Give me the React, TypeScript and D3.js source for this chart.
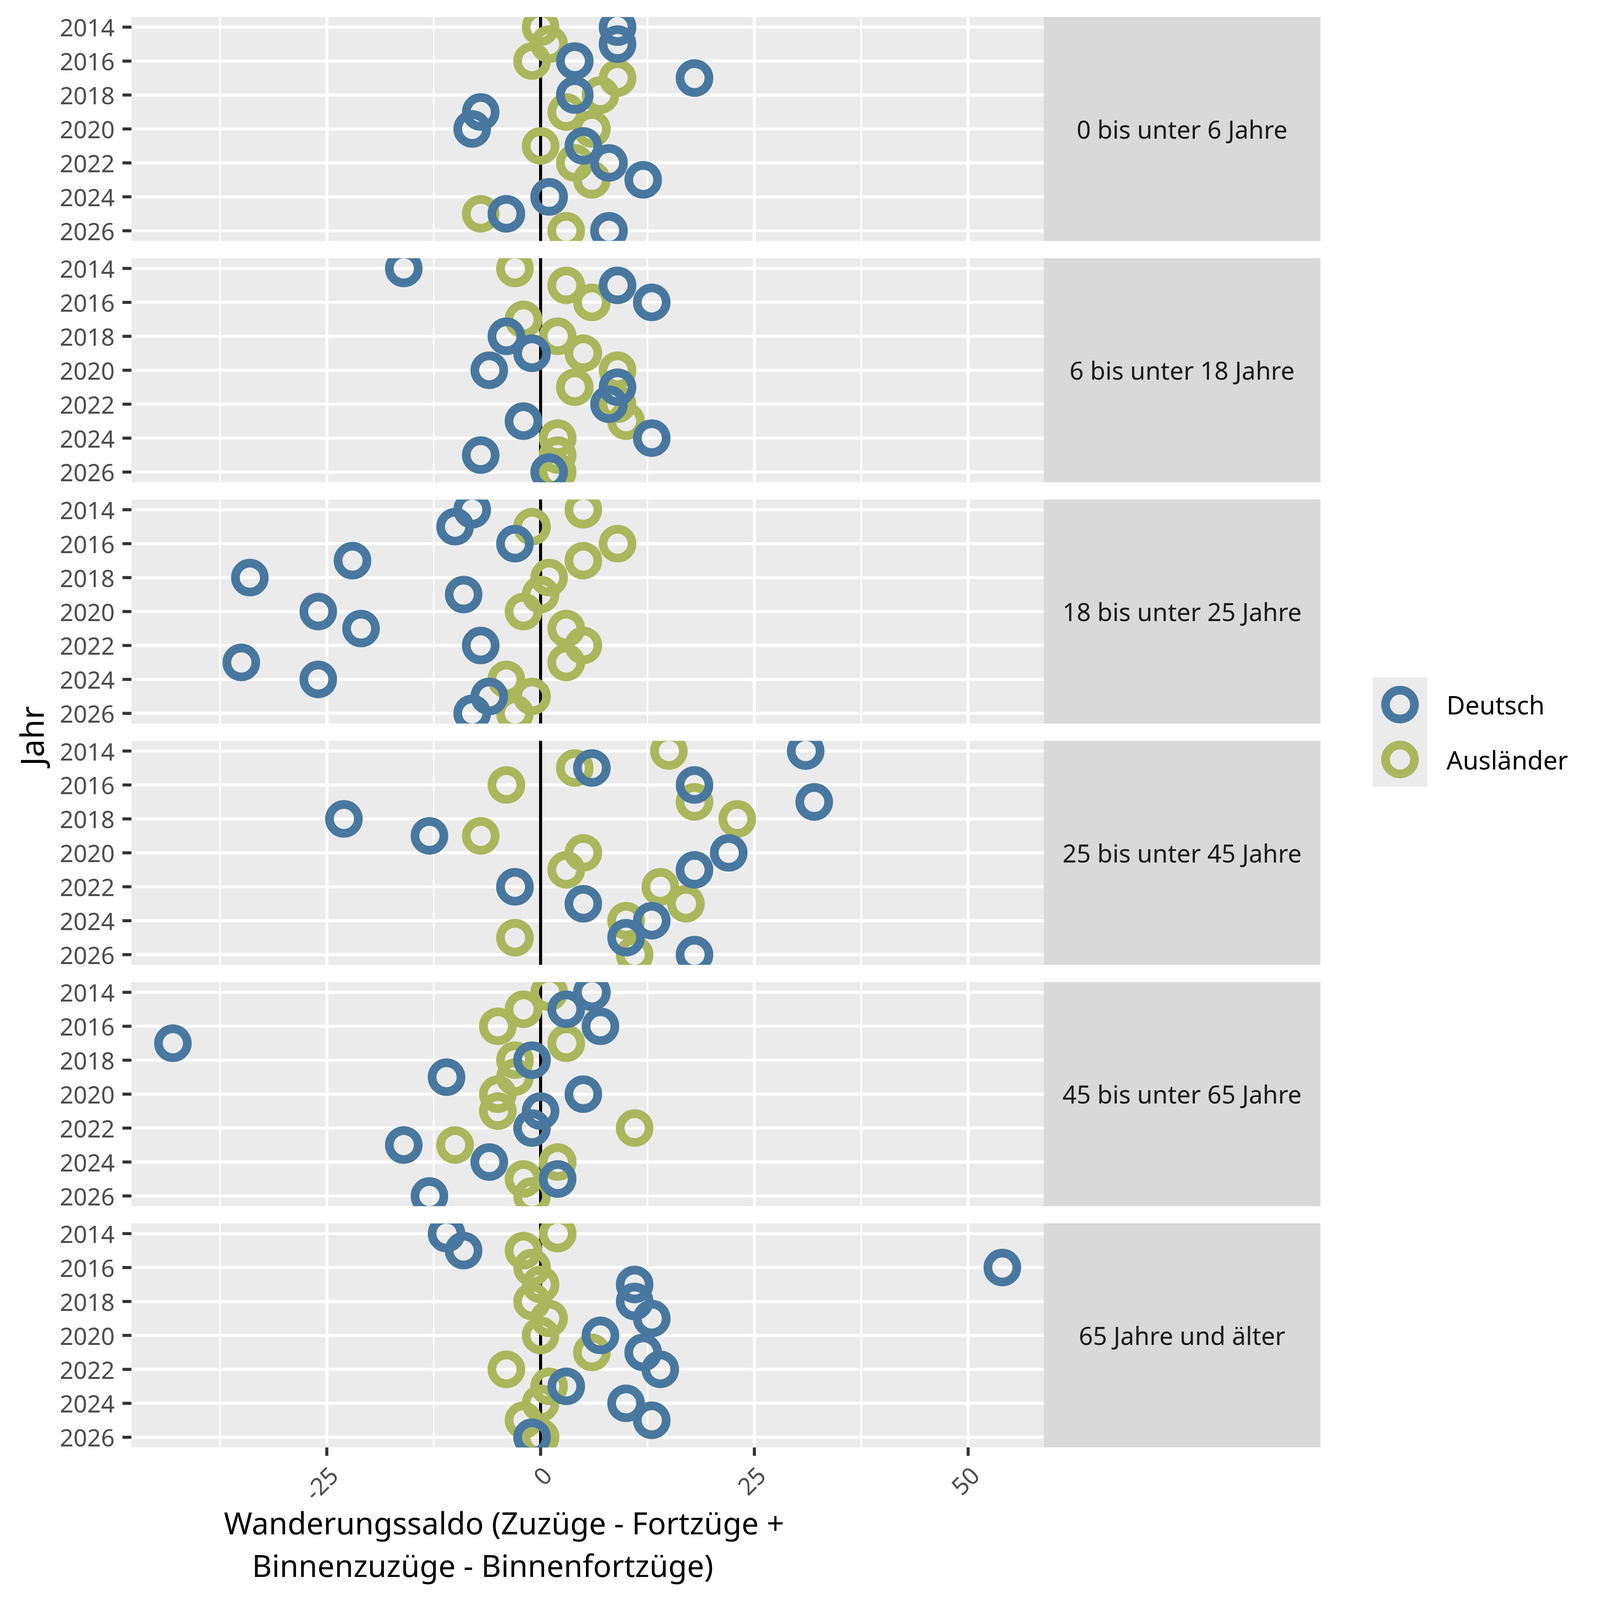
import { useEffect, useRef } from "react"
import * as d3 from "d3"

const years = [2014, 2015, 2016, 2017, 2018, 2019, 2020, 2021, 2022, 2023, 2024, 2025, 2026]
const yearBreaks = [2014, 2016, 2018, 2020, 2022, 2024, 2026]
const xBreaks = [-25, 0, 25, 50]
const xMinorBreaks = [-37.5, -12.5, 12.5, 37.5]

const ageGroups = [
  "0 bis unter 6 Jahre",
  "6 bis unter 18 Jahre",
  "18 bis unter 25 Jahre",
  "25 bis unter 45 Jahre",
  "45 bis unter 65 Jahre",
  "65 Jahre und älter",
]

const nationalities = ["Deutsch", "Ausländer"]
const colors = ["#48789F", "#AAB75C"]

// Wanderungssaldo per year, 2014..2026 (null = no visible point)
const deutsch_0_6 = [9, 9, 4, 18, 4, -7, -8, 5, 8, 12, 1, -4, 8]
const auslaender_0_6 = [0, 1, -1, 9, 7, 3, 6, 0, 4, 6, 1, -7, 3]
const deutsch_6_18 = [-16, 9, 13, null, -4, -1, -6, 9, 8, -2, 13, -7, 1]
const auslaender_6_18 = [-3, 3, 6, -2, 2, 5, 9, 4, 9, 10, 2, 2, 2]
const deutsch_18_25 = [-8, -10, -3, -22, -34, -9, -26, -21, -7, -35, -26, -6, -8]
const auslaender_18_25 = [5, -1, 9, 5, 1, 0, -2, 3, 5, 3, -4, -1, -3]
const deutsch_25_45 = [31, 6, 18, 32, -23, -13, 22, 18, -3, 5, 13, 10, 18]
const auslaender_25_45 = [15, 4, -4, 18, 23, -7, 5, 3, 14, 17, 10, -3, 11]
const deutsch_45_65 = [6, 3, 7, -43, -1, -11, 5, 0, -1, -16, -6, 2, -13]
const auslaender_45_65 = [1, -2, -5, 3, -3, -3, -5, -5, 11, -10, 2, -2, -1]
const deutsch_65 = [-11, -9, 54, 11, 11, 13, 7, 12, 14, 3, 10, 13, -1]
const auslaender_65 = [2, -2, -1, 0, -1, 1, 0, 6, -4, 1, 0, -2, 0]

const deutschByAge = [deutsch_0_6, deutsch_6_18, deutsch_18_25, deutsch_25_45, deutsch_45_65, deutsch_65]
const auslaenderByAge = [auslaender_0_6, auslaender_6_18, auslaender_18_25, auslaender_25_45, auslaender_45_65, auslaender_65]

interface Point {
  panel: number
  group: number
  year: number
  value: number
}

export default function App() {
  const svgRef = useRef<SVGSVGElement>(null)

  useEffect(() => {
    if (!svgRef.current) return
    const svg = d3.select(svgRef.current)
    svg.selectAll("*").remove()

    const font = "'Noto Sans', 'Open Sans', sans-serif"
    const plotLeft = 345
    const plotRight = 2740
    const stripRight = 3466
    const top = 44.5
    const panelH = 588
    const gap = 45.4

    // long format, foreigners drawn first so Deutsch sits on top
    const points: Point[] = []
    ;[1, 0].forEach((g) => {
      const src = g === 0 ? deutschByAge : auslaenderByAge
      src.forEach((vals, p) => {
        vals.forEach((v, j) => {
          if (v !== null) points.push({ panel: p, group: g, year: years[j], value: v })
        })
      })
    })

    const [vMin, vMax] = d3.extent(points, (d) => d.value) as [number, number]
    const pad = (vMax - vMin) * 0.05
    const x = d3.scaleLinear().domain([vMin - pad, vMax + pad]).range([plotLeft, plotRight])
    const yPad = (years[years.length - 1] - years[0]) * 0.05

    svg.append("rect").attr("width", 4200).attr("height", 4200).attr("fill", "#FFFFFF")

    ageGroups.forEach((label, p) => {
      const y0 = top + p * (panelH + gap)
      const y = d3
        .scaleLinear()
        .domain([years[0] - yPad, years[years.length - 1] + yPad])
        .range([y0, y0 + panelH])
      const g = svg.append("g")

      g.append("rect")
        .attr("x", plotLeft)
        .attr("y", y0)
        .attr("width", plotRight - plotLeft)
        .attr("height", panelH)
        .attr("fill", "#EBEBEB")

      g.selectAll("line.minor")
        .data(xMinorBreaks)
        .enter()
        .append("line")
        .attr("x1", (d) => x(d))
        .attr("x2", (d) => x(d))
        .attr("y1", y0)
        .attr("y2", y0 + panelH)
        .attr("stroke", "#FFFFFF")
        .attr("stroke-width", 4)

      g.selectAll("line.majorx")
        .data(xBreaks)
        .enter()
        .append("line")
        .attr("x1", (d) => x(d))
        .attr("x2", (d) => x(d))
        .attr("y1", y0)
        .attr("y2", y0 + panelH)
        .attr("stroke", "#FFFFFF")
        .attr("stroke-width", 8)

      g.selectAll("line.majory")
        .data(yearBreaks)
        .enter()
        .append("line")
        .attr("x1", plotLeft)
        .attr("x2", plotRight)
        .attr("y1", (d) => y(d))
        .attr("y2", (d) => y(d))
        .attr("stroke", "#FFFFFF")
        .attr("stroke-width", 8)

      // zero line
      g.append("line")
        .attr("x1", x(0))
        .attr("x2", x(0))
        .attr("y1", y0)
        .attr("y2", y0 + panelH)
        .attr("stroke", "#000000")
        .attr("stroke-width", 8)

      const clipId = `clip-${p}`
      svg
        .append("clipPath")
        .attr("id", clipId)
        .append("rect")
        .attr("x", plotLeft)
        .attr("y", y0)
        .attr("width", plotRight - plotLeft)
        .attr("height", panelH)

      g.append("g")
        .attr("clip-path", `url(#${clipId})`)
        .selectAll("circle")
        .data(points.filter((d) => d.panel === p))
        .enter()
        .append("circle")
        .attr("cx", (d) => x(d.value))
        .attr("cy", (d) => y(d.year))
        .attr("r", 37.9)
        .attr("fill", "none")
        .attr("stroke", (d) => colors[d.group])
        .attr("stroke-width", 22.8)

      // strip
      g.append("rect")
        .attr("x", plotRight)
        .attr("y", y0)
        .attr("width", stripRight - plotRight)
        .attr("height", panelH)
        .attr("fill", "#D9D9D9")
      g.append("text")
        .attr("x", (plotRight + stripRight) / 2)
        .attr("y", y0 + panelH / 2)
        .attr("text-anchor", "middle")
        .attr("dominant-baseline", "central")
        .attr("font-family", font)
        .attr("font-size", 65)
        .attr("fill", "#1A1A1A")
        .text(label)

      // y axis
      g.selectAll("line.ytick")
        .data(yearBreaks)
        .enter()
        .append("line")
        .attr("x1", plotLeft - 23.5)
        .attr("x2", plotLeft)
        .attr("y1", (d) => y(d))
        .attr("y2", (d) => y(d))
        .attr("stroke", "#333333")
        .attr("stroke-width", 8)
      g.selectAll("text.ylab")
        .data(yearBreaks)
        .enter()
        .append("text")
        .attr("x", 301)
        .attr("y", (d) => y(d))
        .attr("text-anchor", "end")
        .attr("dominant-baseline", "central")
        .attr("font-family", font)
        .attr("font-size", 63)
        .attr("fill", "#4D4D4D")
        .text((d) => String(d))
    })

    // x axis under the last panel
    const axisY = top + 5 * (panelH + gap) + panelH
    const ax = svg.append("g")
    ax.selectAll("line")
      .data(xBreaks)
      .enter()
      .append("line")
      .attr("x1", (d) => x(d))
      .attr("x2", (d) => x(d))
      .attr("y1", axisY)
      .attr("y2", axisY + 22)
      .attr("stroke", "#333333")
      .attr("stroke-width", 8)
    ax.selectAll("text")
      .data(xBreaks)
      .enter()
      .append("text")
      .attr("transform", (d) => `translate(${x(d) + 17},${axisY + 61}) rotate(-45)`)
      .attr("text-anchor", "end")
      .attr("dominant-baseline", "central")
      .attr("font-family", font)
      .attr("font-size", 63)
      .attr("fill", "#4D4D4D")
      .text((d) => String(d))

    // axis titles
    svg.append("text")
      .attr("x", 1323)
      .attr("y", 4028)
      .attr("text-anchor", "middle")
      .attr("font-family", font)
      .attr("font-size", 80)
      .attr("fill", "#000000")
      .text("Wanderungssaldo (Zuzüge - Fortzüge +")
    svg.append("text")
      .attr("x", 1267)
      .attr("y", 4139)
      .attr("text-anchor", "middle")
      .attr("font-family", font)
      .attr("font-size", 80)
      .attr("fill", "#000000")
      .text("Binnenzuzüge - Binnenfortzüge)")
    svg.append("text")
      .attr("transform", `translate(82,${(top + axisY) / 2 + 10}) rotate(-90)`)
      .attr("text-anchor", "middle")
      .attr("dominant-baseline", "central")
      .attr("font-family", font)
      .attr("font-size", 84)
      .attr("fill", "#000000")
      .text("Jahr")

    // legend
    const keySize = 144.1
    const legTop = 1777.5
    const lg = svg.append("g")
    lg.append("rect")
      .attr("x", 3603)
      .attr("y", legTop)
      .attr("width", 144)
      .attr("height", keySize * nationalities.length)
      .attr("fill", "#EBEBEB")
    lg.selectAll("circle")
      .data(nationalities)
      .enter()
      .append("circle")
      .attr("cx", 3675)
      .attr("cy", (_, i) => legTop + keySize * (i + 0.5))
      .attr("r", 37.9)
      .attr("fill", "none")
      .attr("stroke", (_, i) => colors[i])
      .attr("stroke-width", 22.8)
    lg.selectAll("text")
      .data(nationalities)
      .enter()
      .append("text")
      .attr("x", 3797)
      .attr("y", (_, i) => legTop + keySize * (i + 0.5))
      .attr("dominant-baseline", "central")
      .attr("font-family", font)
      .attr("font-size", 67)
      .attr("fill", "#000000")
      .text((d) => d)
  }, [])

  // scale the 4200-unit drawing to whatever viewport the page gets
  return (
    <svg
      ref={svgRef}
      viewBox="0 0 4200 4200"
      preserveAspectRatio="xMinYMin meet"
      style={{ position: "absolute", left: 0, top: 0, width: "100vw", height: "100vh", display: "block" }}
    />
  )
}
